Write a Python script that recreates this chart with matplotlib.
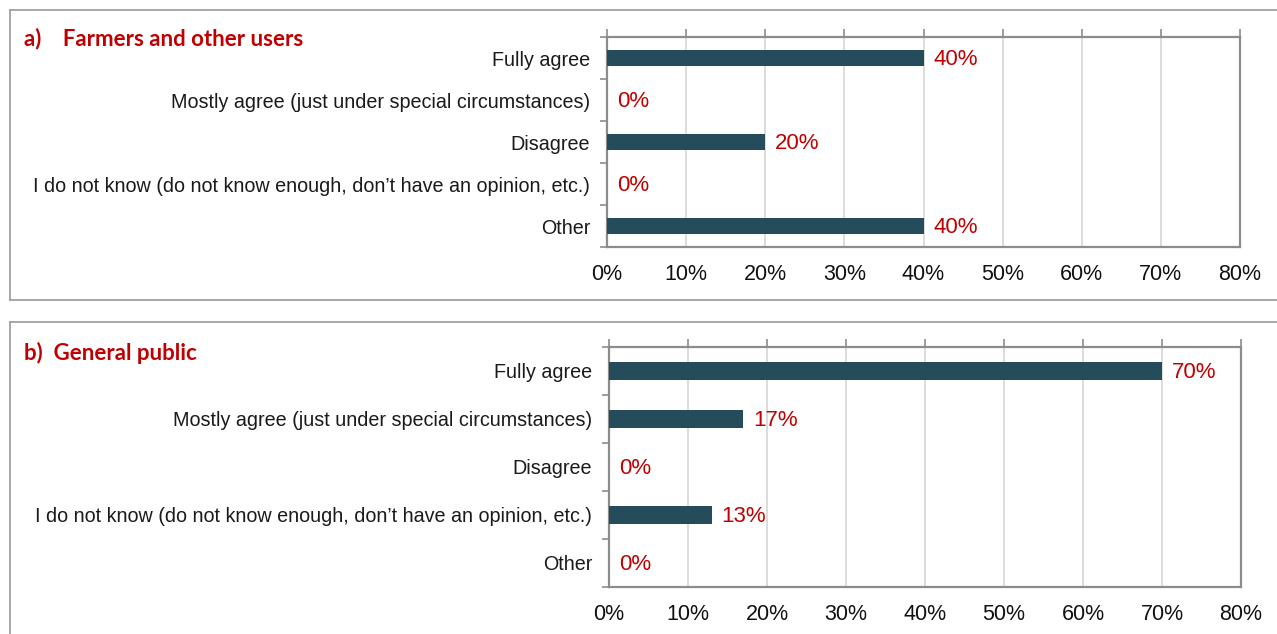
import matplotlib
matplotlib.use("Agg")
import matplotlib.pyplot as plt
from matplotlib.lines import Line2D
from matplotlib.ticker import FixedLocator

categories = [
    "Fully agree",
    "Mostly agree (just under special circumstances)",
    "Disagree",
    "I do not know (do not know enough, don\u2019t have an opinion, etc.)",
    "Other",
]
farmers_pct = [40, 0, 20, 0, 40]
public_pct = [70, 17, 0, 13, 0]
x_ticks = [0, 10, 20, 30, 40, 50, 60, 70, 80]
panel_titles = ["a)    Farmers and other users", "b)  General public"]

W, H = 1277, 634
BAR_COLOR = "#244C5A"
RED = "#C00000"
GRID = "#D9D9D9"
SPINE = "#8C8C8C"
LABEL_FONT = ["Liberation Sans", "DejaVu Sans"]
TITLE_FONT = ["Lato", "DejaVu Sans"]

fig = plt.figure(figsize=(W / 100, H / 100), dpi=100)


def px_rect(left, top, right, bottom):
    return [left / W, 1 - bottom / H, (right - left) / W, (bottom - top) / H]


def draw_panel(rect, values, title, title_xy, frame):
    ax = fig.add_axes(px_rect(*rect))
    y = list(range(len(categories)))
    ax.barh(y, values, height=0.38, color=BAR_COLOR, linewidth=0, zorder=3)
    ax.set_xlim(0, 80)
    ax.set_ylim(len(categories) - 0.5, -0.5)

    ax.set_xticks(x_ticks)
    ax.set_xticklabels([f"{t}%" for t in x_ticks], fontsize=15.5,
                       family=LABEL_FONT, color="#111111")
    ax.tick_params(axis="x", top=True, bottom=False, labeltop=False,
                   labelbottom=True, direction="out", length=6, width=1.2,
                   color=SPINE, pad=6.5)
    ax.xaxis.grid(True, color=GRID, linewidth=1.3, zorder=0)

    ax.set_yticks(y)
    ax.set_yticklabels(categories, fontsize=14.2, family=LABEL_FONT,
                       color="#1A1A1A")
    ax.yaxis.set_minor_locator(FixedLocator([i - 0.5 for i in range(len(categories) + 1)]))
    ax.tick_params(axis="y", which="major", length=0, pad=12)
    ax.tick_params(axis="y", which="minor", length=5, width=1.2,
                   color=SPINE, direction="out")

    for s in ax.spines.values():
        s.set_color(SPINE)
        s.set_linewidth(1.6)

    for yi, v in zip(y, values):
        ax.annotate(f"{v}%", xy=(v, yi), xytext=(7, -1),
                    textcoords="offset points", va="center", ha="left",
                    fontsize=16, family=LABEL_FONT, color=RED, zorder=4)

    fig.text(title_xy[0] / W, 1 - title_xy[1] / H, title, fontsize=16,
             fontweight="bold", family=TITLE_FONT, color=RED,
             ha="left", va="center")

    # panel frame
    for (x0, y0, x1, y1) in frame:
        fig.add_artist(Line2D([x0 / W, x1 / W], [1 - y0 / H, 1 - y1 / H],
                              transform=fig.transFigure, color="#9A9A9A",
                              linewidth=1.2))
    return ax


draw_panel((607, 37, 1240, 247), farmers_pct, panel_titles[0], (24, 39),
           [(10, 10, 1277, 10), (10, 10, 10, 300), (10, 300, 1277, 300)])
draw_panel((609, 347, 1241, 587), public_pct, panel_titles[1], (24, 353),
           [(10, 322, 1277, 322), (10, 322, 10, 634)])

fig.savefig("out.png", dpi=100, facecolor="white")
